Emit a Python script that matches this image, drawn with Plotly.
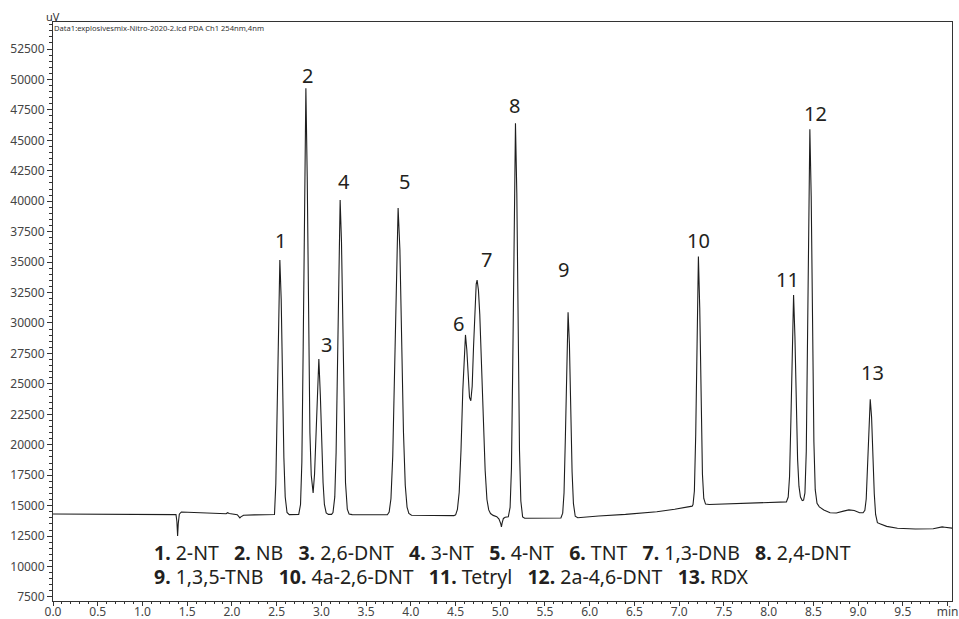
import plotly.graph_objects as go

# ---- chromatogram trace (time in min, signal in uV) ----
time_min = [
    0.00, 0.50, 1.00, 1.30, 1.375, 1.385, 1.393, 1.400, 1.412, 1.435, 1.50, 1.70, 1.90, 1.935, 1.952,
    1.97, 2.06, 2.08, 2.089, 2.10, 2.13, 2.25, 2.44,
    2.456, 2.476, 2.491, 2.506, 2.521, 2.536, 2.551, 2.566, 2.581, 2.596, 2.616, 2.641, 2.70,
    2.747, 2.767, 2.782, 2.797, 2.812, 2.827, 2.842, 2.857, 2.872, 2.887, 2.900, 2.908,
    2.924, 2.939, 2.954, 2.972, 2.989, 3.004, 3.019, 3.034, 3.054, 3.079,
    3.114, 3.130, 3.150, 3.165, 3.180, 3.195, 3.210, 3.225, 3.240, 3.255, 3.270, 3.290, 3.310, 3.344, 3.55,
    3.738, 3.758, 3.778, 3.798, 3.818, 3.838, 3.858, 3.878, 3.898, 3.918, 3.938, 3.958, 3.978, 4.008, 4.25,
    4.481, 4.501, 4.521, 4.541, 4.561, 4.581, 4.596, 4.611, 4.626, 4.641, 4.656, 4.671, 4.686, 4.701,
    4.716, 4.731, 4.741, 4.756, 4.771, 4.791, 4.811, 4.831, 4.851, 4.871, 4.891, 4.921, 4.961, 4.986,
    5.006, 5.013, 5.020, 5.035, 5.055, 5.085,
    5.090, 5.110, 5.125, 5.140, 5.155, 5.170, 5.185, 5.200, 5.215, 5.230, 5.250, 5.273, 5.45,
    5.678, 5.698, 5.713, 5.728, 5.743, 5.758, 5.773, 5.788, 5.803, 5.818, 5.838, 5.866,
    5.95, 6.10, 6.40, 6.75, 6.95, 7.05, 7.10,
    7.145, 7.155, 7.170, 7.185, 7.200, 7.215, 7.230, 7.245, 7.260, 7.275, 7.295, 7.335,
    7.60, 7.90, 8.15,
    8.199, 8.219, 8.234, 8.249, 8.264, 8.279, 8.294, 8.309, 8.324, 8.339, 8.356, 8.376, 8.381,
    8.391, 8.406, 8.421, 8.436, 8.449, 8.461, 8.476, 8.491, 8.506, 8.521, 8.541, 8.567, 8.617,
    8.687, 8.757, 8.837, 8.897, 8.957, 9.017,
    9.056, 9.076, 9.091, 9.106, 9.121, 9.136, 9.151, 9.166, 9.181, 9.196, 9.216, 9.250, 9.320,
    9.440, 9.640, 9.840, 9.900, 9.940, 9.970, 10.05,
]
signal_uv = [
    14320, 14310, 14290, 14270, 14260, 13700, 12520, 13500, 14300, 14480, 14460, 14390, 14320, 14330, 14420,
    14350, 14260, 14100, 13990, 14080, 14210, 14240, 14250,
    14250, 14270, 16824, 22517, 30847, 35180, 31978, 25008, 18938, 15715, 14440, 14260, 14250,
    14280, 15091, 18559, 28087, 42029, 49280, 42000, 29500, 21000, 17500, 16250, 16050,
    17600, 20600, 24300, 27050, 24000, 20200, 16900, 15100, 14400, 14280,
    14280, 14425, 15717, 19384, 26849, 35838, 40100, 36639, 28812, 21373, 16879, 14709, 14315, 14260, 14240,
    14255, 14482, 15567, 19047, 26336, 35213, 39450, 36020, 28303, 21014, 16676, 14886, 14356, 14210, 14190,
    14180, 14245, 14700, 16100, 19516, 24417, 27300, 29020, 27800, 25500, 23900, 23620, 24800, 28000,
    31300, 33200, 33530, 32700, 30700, 26500, 21800, 17900, 15500, 14650, 14350, 14200, 14100, 13900,
    13500, 13250, 13550, 13950, 14050, 14080,
    14090, 14856, 18055, 26846, 39710, 46400, 40656, 28812, 19531, 15378, 14080, 13960, 13960,
    13990, 14386, 16059, 20656, 27382, 30880, 28294, 22667, 17766, 15163, 14132, 14010,
    14040, 14150, 14280, 14500, 14700, 14850, 14920,
    14960, 15093, 16200, 20834, 29956, 35450, 31238, 23138, 17603, 15588, 15130, 15090,
    15150, 15230, 15290,
    15310, 15708, 17391, 22015, 28781, 32300, 28900, 23000, 18800, 16600, 15700, 15420, 15410,
    15450, 16053, 19474, 29342, 40859, 45900, 40430, 29130, 20275, 16312, 15200, 14900, 14650,
    14420, 14400, 14550, 14650, 14600, 14420,
    14420, 14624, 15549, 18089, 21807, 23740, 22261, 18973, 15975, 14279, 13600, 13500, 13300,
    13150, 13080, 13100, 13180, 13260, 13230, 13150,
]

# ---- peak labels ----
peak_names = ["1", "2", "3", "4", "5", "6", "7", "8", "9", "10", "11", "12", "13"]
peak_label_t = [2.547, 2.849, 3.061, 3.251, 3.933, 4.529, 4.846, 5.162, 5.702, 7.218, 8.216, 8.525, 9.165]
peak_label_v = [36736, 50365, 28198, 41580, 41580, 29979, 35234, 47900, 34355, 36736, 33534, 47221, 25924]

# ---- compound key ----
compound_nums = ["1.", "2.", "3.", "4.", "5.", "6.", "7.", "8.", "9.", "10.", "11.", "12.", "13."]
compound_names = ["2-NT", "NB", "2,6-DNT", "3-NT", "4-NT", "TNT", "1,3-DNB", "2,4-DNT",
                  "1,3,5-TNB", "4a-2,6-DNT", "Tetryl", "2a-4,6-DNT", "RDX"]

# ---- axis ticks ----
x_tickvals = [0.0, 0.5, 1.0, 1.5, 2.0, 2.5, 3.0, 3.5, 4.0, 4.5, 5.0, 5.5, 6.0, 6.5, 7.0, 7.5,
              8.0, 8.5, 9.0, 9.5, 10.0]
x_ticktext = ["0.0", "0.5", "1.0", "1.5", "2.0", "2.5", "3.0", "3.5", "4.0", "4.5", "5.0", "5.5",
              "6.0", "6.5", "7.0", "7.5", "8.0", "8.5", "9.0", "9.5", "min"]

FONT = "Noto Sans"
TXT = "#231f20"

fig = go.Figure()
fig.add_trace(go.Scatter(x=time_min, y=signal_uv, mode="lines",
                         line=dict(color="#1e1e1e", width=1.1), hoverinfo="skip",
                         showlegend=False))

for name, t, v in zip(peak_names, peak_label_t, peak_label_v):
    fig.add_annotation(x=t, y=v, text=name, showarrow=False, xanchor="center", yanchor="middle",
                       font=dict(family=FONT, size=20, color=TXT))

def key_line(idx):
    return "   ".join(f"<b>{compound_nums[i]}</b> {compound_names[i]}" for i in idx)

fig.add_annotation(xref="paper", yref="paper", x=0.110, y=0.0846, xanchor="left", yanchor="middle",
                   text=key_line(range(0, 8)), showarrow=False,
                   font=dict(family=FONT, size=19.5, color=TXT))
fig.add_annotation(xref="paper", yref="paper", x=0.110, y=0.0415, xanchor="left", yanchor="middle",
                   text=key_line(range(8, 13)), showarrow=False,
                   font=dict(family=FONT, size=19.5, color=TXT))

fig.add_annotation(xref="paper", yref="paper", x=0, y=1, xanchor="center", yanchor="middle",
                   text="uV", showarrow=False, yshift=6,
                   font=dict(family=FONT, size=11, color="#333333"))
fig.add_annotation(xref="paper", yref="paper", x=0, y=1, xanchor="left", yanchor="top",
                   text="Data1:explosivesmix-Nitro-2020-2.lcd PDA Ch1 254nm,4nm", showarrow=False,
                   xshift=-1, yshift=1,
                   font=dict(family=FONT, size=7.6, color="#333333"))

axis_common = dict(showline=True, linecolor="#333333", linewidth=1, mirror=True,
                   showgrid=False, zeroline=False, ticks="outside",
                   tickcolor="#333333", automargin=False,
                   tickfont=dict(family=FONT, size=12, color="#444444"))

fig.update_xaxes(range=[0, 10.05], tickmode="array", tickvals=x_tickvals, ticktext=x_ticktext,
                 ticklen=4, ticklabelstandoff=-4,
                 minor=dict(tickmode="linear", tick0=0, dtick=0.1, ticks="outside", ticklen=2,
                            tickcolor="#333333"),
                 **axis_common)
fig.update_yaxes(range=[7170, 54717], tickmode="linear", tick0=0, dtick=2500, tickformat="d",
                 ticklen=5,
                 minor=dict(tickmode="linear", tick0=0, dtick=500, ticks="outside", ticklen=3,
                            tickcolor="#333333"),
                 **axis_common)

fig.update_layout(width=959, height=619, margin=dict(l=53, r=7, t=22, b=18, autoexpand=False),
                  paper_bgcolor="white", plot_bgcolor="white",
                  font=dict(family=FONT, color=TXT))

# remove the default page margin so the figure fills the window exactly; hide the modebar
fig.write_html("out.html", config={"displayModeBar": False},
               post_script="document.body.style.margin='0';document.body.style.overflow='hidden';")
